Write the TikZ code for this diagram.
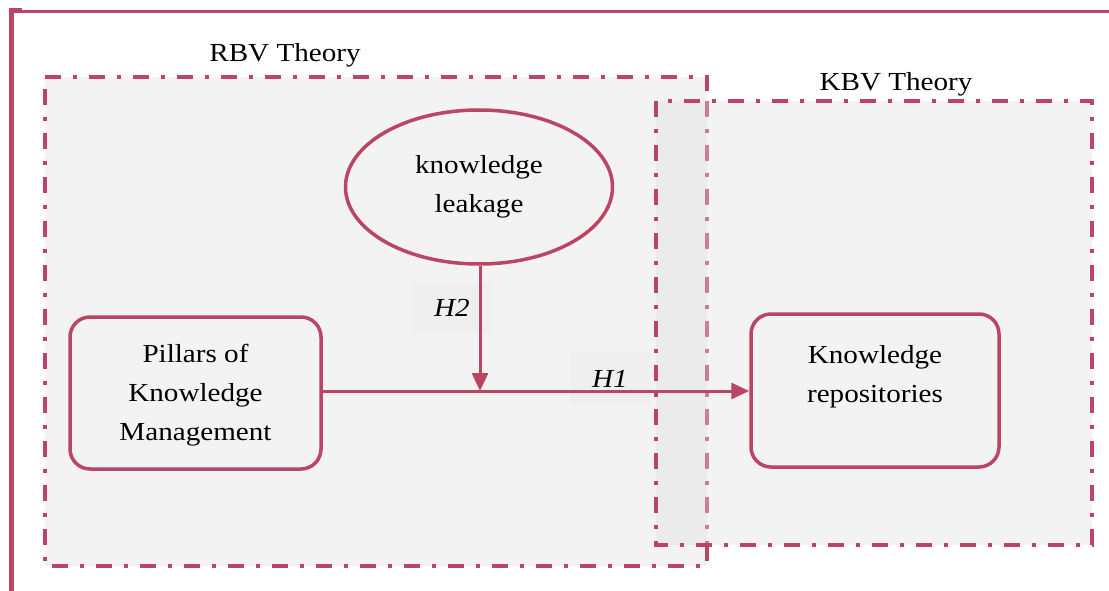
\documentclass[tikz,border=0pt]{standalone}
\usepackage{fontspec}
\setmainfont[FakeStretch=1.12]{Liberation Serif}
\usetikzlibrary{shapes.geometric,arrows.meta}
\definecolor{rose}{RGB}{187,69,100}
\definecolor{bgg}{RGB}{243,243,243}
\definecolor{ovl}{RGB}{235,235,235}
\definecolor{lblbg}{RGB}{239,239,239}
\tikzset{
  theorybox/.style={draw=rose, line width=3.5pt, dash pattern=on 16pt off 12pt on 4pt off 12pt},
  construct/.style={draw=rose, line width=3.5pt, fill=bgg, rounded corners=20pt},
  txt/.style={align=center, font=\fontsize{26}{39}\selectfont},
  conn/.style={draw=rose, line width=3pt, -{Triangle[length=18pt,width=16pt]}},
  hyp/.style={fill=lblbg, font=\fontsize{26}{28}\selectfont\itshape, inner sep=0pt},
  ttl/.style={font=\fontsize{26}{28}\selectfont}
}
\begin{document}
\begin{tikzpicture}[x=1pt,y=-1pt]
\useasboundingbox (0,0) rectangle (1109,591);
% outer frame
\fill[rose] (9,8) rectangle (22,13);
\draw[rose, line width=3pt] (11,11.5) -- (1109,11.5);
\draw[rose, line width=5pt] (11.5,9) -- (11.5,591);
% theory areas
\fill[bgg] (45,77) rectangle (707,566);
\fill[bgg] (656,101) rectangle (1092,545);
\fill[ovl] (656,101) rectangle (707,545);
\draw[theorybox] (45,77) -- (707,77) -- (707,101);
\draw[theorybox, draw=rose!70] (707,101) -- (707,545);
\draw[theorybox] (707,545) -- (707,566) -- (45,566) -- (45,77);
\draw[theorybox] (656,101) rectangle (1092,545);
\node[ttl] (rbv) at (285,55) {RBV Theory};
\node[ttl] (kbv) at (896,84) {KBV Theory};
% constructs
\node[draw=rose, line width=3.5pt, fill=bgg, ellipse, minimum width=267pt, minimum height=154pt,
  txt] (kl) at (479,187) {knowledge\\leakage};
\node[construct, minimum width=251pt, minimum height=152pt] (pkm) at (195.5,393) {};
\node[txt] (pkmt) at (195.5,395) {Pillars of\\Knowledge\\Management};
\node[construct, minimum width=248pt, minimum height=153pt] (kr) at (875,390.5) {};
\node[txt] (krt) at (875,377) {Knowledge\\repositories};
% hypothesis label backgrounds
\node[hyp, minimum width=80pt, minimum height=52pt] (h2) at (452,308) {H2};
\node[hyp, minimum width=80pt, minimum height=53pt] (h1) at (610,378.5) {H1};
% connectors
\coordinate (mid) at (480,391);
\draw[conn] (pkm.east |- mid) -- (kr.west |- mid);
\draw[conn] (kl.south -| mid) -- (mid);
\end{tikzpicture}
\end{document}
